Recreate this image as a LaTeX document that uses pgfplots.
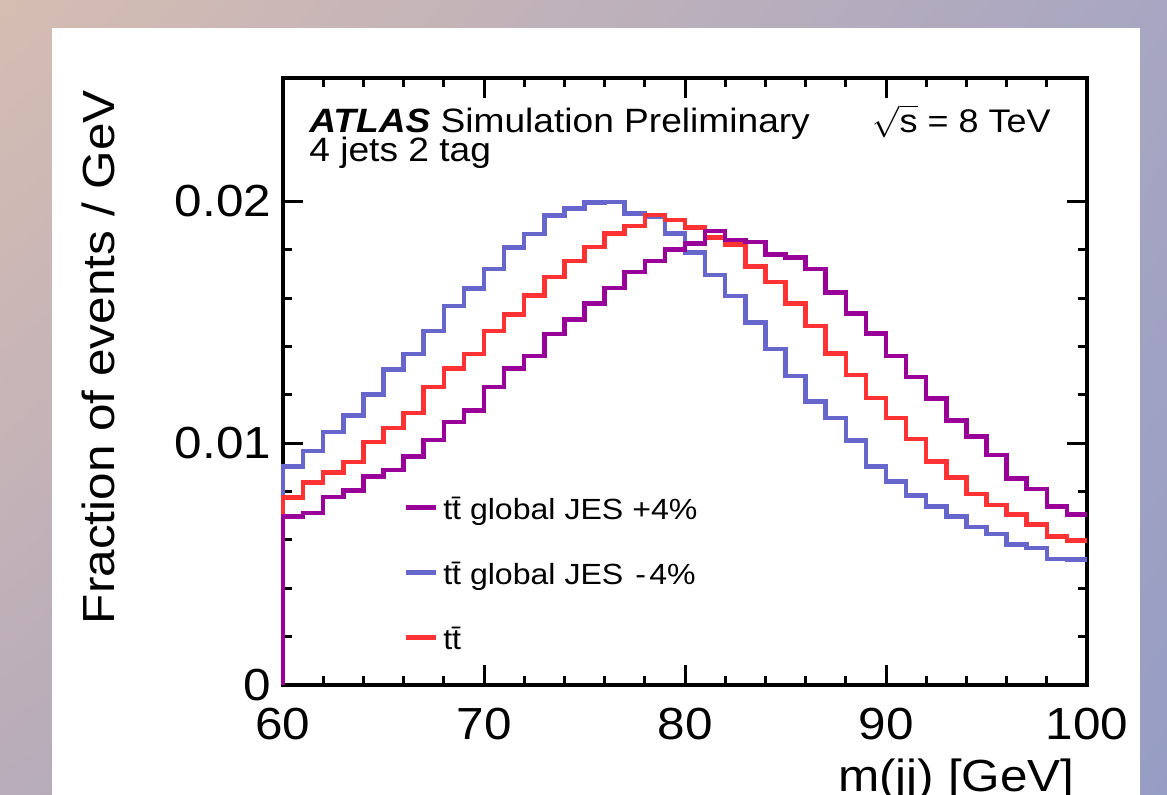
\documentclass[border=0pt]{standalone}
\usepackage{pgfplots}
\usepackage{pgfplotstable}
\pgfplotsset{compat=1.18}
\usetikzlibrary{shadings}
\usepackage{fontspec}
\setmainfont{Liberation Sans}[FakeStretch=1.1]

\definecolor{jesup}{RGB}{153,0,153}
\definecolor{jesdn}{RGB}{102,102,204}
\definecolor{nom}{RGB}{255,51,51}
\definecolor{bgul}{RGB}{214,189,178}
\definecolor{bgur}{RGB}{168,166,194}
\definecolor{bgll}{RGB}{184,172,186}
\definecolor{bglr}{RGB}{150,157,196}

% bin low edge, JES +4%, nominal, JES -4%
\pgfplotstableread{
x    up       nom      dn
60   0        0        0
60   0.00697  0.00775  0.00904
61   0.00711  0.00838  0.00968
62   0.00777  0.00879  0.01046
63   0.00804  0.00922  0.01114
64   0.00863  0.01005  0.01201
65   0.00890  0.01063  0.01304
66   0.00945  0.01125  0.01369
67   0.01014  0.01233  0.01463
68   0.01088  0.01308  0.01567
69   0.01135  0.01369  0.01640
70   0.01233  0.01463  0.01721
71   0.01308  0.01532  0.01808
72   0.01361  0.01611  0.01865
73   0.01451  0.01688  0.01941
74   0.01511  0.01753  0.01971
75   0.01578  0.01812  0.01995
76   0.01642  0.01867  0.01997
77   0.01707  0.01898  0.01949
78   0.01753  0.01943  0.01936
79   0.01801  0.01923  0.01867
80   0.01826  0.01891  0.01788
81   0.01877  0.01850  0.01695
82   0.01840  0.01822  0.01608
83   0.01832  0.01730  0.01498
84   0.01781  0.01666  0.01390
85   0.01767  0.01578  0.01277
86   0.01721  0.01484  0.01173
87   0.01622  0.01371  0.01104
88   0.01536  0.01281  0.01012
89   0.01453  0.01187  0.00904
90   0.01360  0.01104  0.00842
91   0.01274  0.01017  0.00783
92   0.01184  0.00925  0.00738
93   0.01094  0.00858  0.00697
94   0.01028  0.00790  0.00653
95   0.00952  0.00745  0.00625
96   0.00853  0.00704  0.00580
97   0.00810  0.00663  0.00566
98   0.00738  0.00614  0.00520
99   0.00704  0.00598  0.00518
100  0.00704  0.00598  0.00518
}\histtab

\begin{document}
\begin{tikzpicture}
% page = 1167 x 795 px, 1 px = 0.1 mm
\path[use as bounding box] (0,0) rectangle (11.67,7.95);
\clip (0,0) rectangle (11.67,7.95);
\shade[upper left=bgul, upper right=bgur, lower left=bgll, lower right=bglr]
  (0,0) rectangle (11.67,7.95);
\fill[white] (0.52,0) rectangle (11.40,7.67);

\begin{axis}[
  at={(2.83cm,1.10cm)}, anchor=south west,
  width=80.4mm, height=60.7mm, scale only axis,
  xmin=60, xmax=100, ymin=0, ymax=0.0251,
  xtick={60,70,80,90,100}, xticklabels={60,70,80,90,100},
  ytick={0,0.01,0.02}, yticklabels={0,0.01,0.02},
  scaled y ticks=false, scaled x ticks=false,
  minor x tick num=4, minor y tick num=4,
  tick align=inside,
  major tick length=2mm, minor tick length=0.9mm,
  axis line style={line width=0.35mm},
  every tick/.append style={black, line width=0.3mm},
  tick label style={font=\fontsize{12.8}{14}\selectfont},
  yticklabel style={anchor=east, inner sep=0pt, xshift=-1.1mm},
  xticklabel style={anchor=north, inner sep=0pt, yshift=-2.2mm},
  ylabel={Fraction of events / GeV},
  ylabel style={at={(axis description cs:-0.209,0.54)}, anchor=base,
    font=\fontsize{12.8}{14}\selectfont},
  xlabel={m(jj) [GeV]},
  xlabel style={at={(axis description cs:1.0,-0.176)}, anchor=base east,
    font=\fontsize{12.8}{14}\selectfont},
  clip=false,
  legend style={at={(axis description cs:0.1493,0.313)}, anchor=north west,
    draw=none, fill=none, inner sep=0pt,
    font=\fontsize{8.3}{9}\selectfont, row sep=3.3mm,
    nodes={inner sep=0pt, text height=2.4mm, text depth=0.8mm},
    /tikz/every odd column/.append style={column sep=0.5mm}},
  legend cell align=left,
  legend image code/.code={\draw[#1] (0mm,0.4mm) -- (3mm,0.4mm);},
]
\addlegendimage{jesup, line width=0.45mm}
\addlegendentry{t\=t global JES +4\%}
\addlegendimage{jesdn, line width=0.45mm}
\addlegendentry{t\=t global JES \makebox[0.584em]{-}4\%}
\addlegendimage{nom, line width=0.45mm}
\addlegendentry{t\=t}

\addplot[const plot, jesdn, line width=0.45mm, forget plot] table[x=x, y=dn] {\histtab};
\addplot[const plot, nom, line width=0.45mm, forget plot] table[x=x, y=nom] {\histtab};
\addplot[const plot, jesup, line width=0.45mm, forget plot] table[x=x, y=up] {\histtab};

\node[anchor=base west, inner sep=0pt, font=\fontsize{9.6}{11}\selectfont]
  at (axis description cs:0.032,0.911) {\textbf{\textit{ATLAS}} Simulation Preliminary};
\node[anchor=base west, inner sep=0pt, font=\fontsize{9.6}{11}\selectfont]
  at (axis description cs:0.032,0.8616) {4 jets 2 tag};
\node[anchor=base east, font=\fontsize{9.3}{11}\selectfont] at (axis description cs:0.970,0.911)
  {$\sqrt{\mbox{s}}$ = 8 TeV};
\end{axis}
\end{tikzpicture}
\end{document}
